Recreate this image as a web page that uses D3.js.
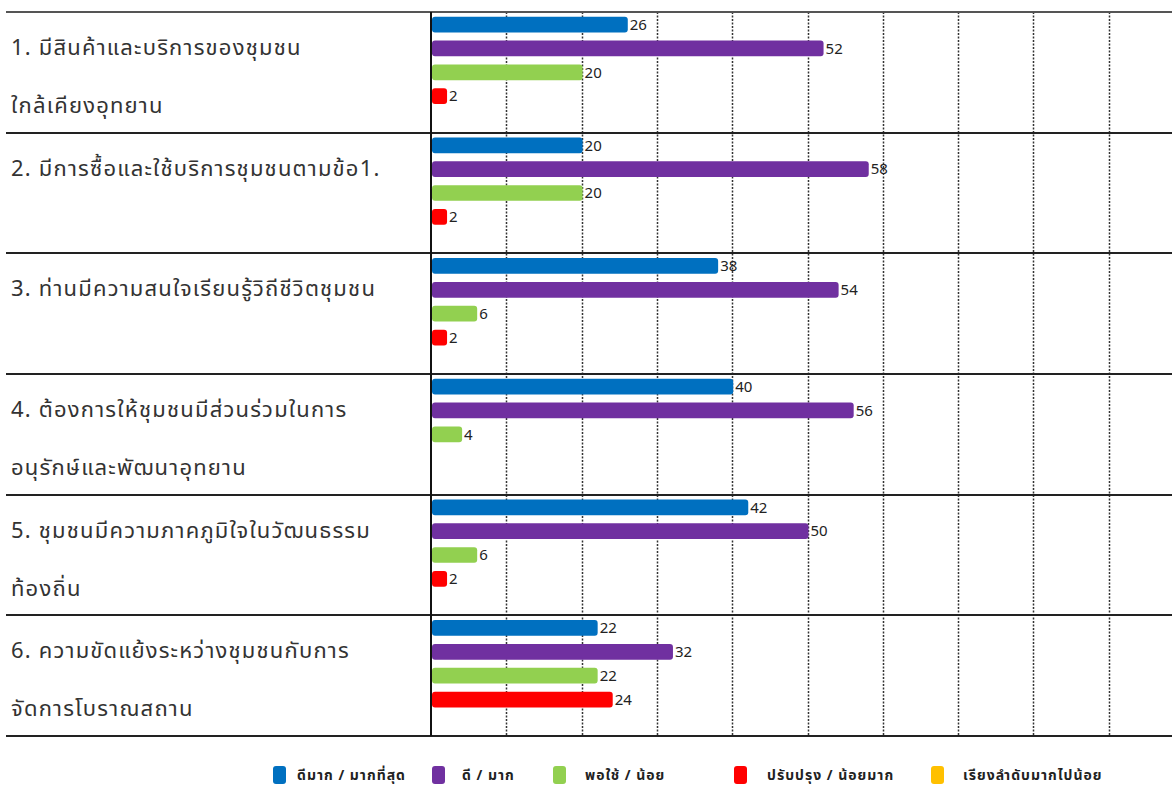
<!DOCTYPE html>
<html>
<head>
<meta charset="utf-8">
<script src="https://cdn.jsdelivr.net/npm/d3@7"></script>
<style>
  body { margin: 0; background: #fff; }
  svg text { font-family: Tahoma, "Noto Sans Thai", "Noto Sans", sans-serif; }
</style>
</head>
<body>
<div id="chart"></div>
<script>
// questions, one or two lines each
const items = [
  ["1. มีสินค้าและบริการของชุมชน", "ใกล้เคียงอุทยาน"],
  ["2. มีการซื้อและใช้บริการชุมชนตามข้อ1."],
  ["3. ท่านมีความสนใจเรียนรู้วิถีชีวิตชุมชน"],
  ["4. ต้องการให้ชุมชนมีส่วนร่วมในการ", "อนุรักษ์และพัฒนาอุทยาน"],
  ["5. ชุมชนมีความภาคภูมิใจในวัฒนธรรม", "ท้องถิ่น"],
  ["6. ความขัดแย้งระหว่างชุมชนกับการ", "จัดการโบราณสถาน"]
];
const seriesNames = ["ดีมาก / มากที่สุด", "ดี / มาก", "พอใช้ / น้อย", "ปรับปรุง / น้อยมาก", "เรียงลำดับมากไปน้อย"];
const seriesColors = ["#0070C0", "#7030A0", "#92D050", "#FF0000", "#FFC000"];
const veryGood = [26, 20, 38, 40, 42, 22];
const good = [52, 58, 54, 56, 50, 32];
const fair = [20, 20, 6, 4, 6, 22];
const poor = [2, 2, 2, 0, 2, 24];
const ranked = [null, null, null, null, null, null];
const seriesValues = [veryGood, good, fair, poor, ranked];
const gridTicks = [10, 20, 30, 40, 50, 60, 70, 80, 90];

const width = 1172, height = 787;
const svg = d3.select("#chart").append("svg")
  .attr("width", width)
  .attr("height", height);

let x = d3.scaleLinear().domain([0, 100]).range([431, 1184]);
let y = d3.scaleBand().domain(d3.range(items.length)).range([12, 736]);
let ySub = d3.scaleBand().domain(d3.range(seriesNames.length)).range([0, y.bandwidth()]).paddingInner(0.34).paddingOuter(0.2);

// dotted grid
svg.append("g")
  .selectAll("line")
  .data(gridTicks)
  .enter().append("line")
  .attr("x1", d => Math.round(x(d)) + 0.5)
  .attr("x2", d => Math.round(x(d)) + 0.5)
  .attr("y1", y.range()[0])
  .attr("y2", y.range()[1])
  .attr("stroke", "#333")
  .attr("stroke-width", 1.5)
  .attr("stroke-dasharray", "2,1.5");

// row separators
let rowLines = d3.range(items.length + 1).map(i => i < items.length ? y(i) : y.range()[1]);
svg.append("g")
  .selectAll("line")
  .data(rowLines)
  .enter().append("line")
  .attr("x1", 6)
  .attr("x2", width)
  .attr("y1", d => Math.round(d))
  .attr("y2", d => Math.round(d))
  .attr("stroke", (d, i) => i == 0 ? "#555" : "#222")
  .attr("stroke-width", 2);

// vertical axis
svg.append("line")
  .attr("x1", x(0)).attr("x2", x(0))
  .attr("y1", y.range()[0]).attr("y2", y.range()[1])
  .attr("stroke", "#111")
  .attr("stroke-width", 2);

// question labels
let rows = svg.append("g")
  .selectAll("g")
  .data(items)
  .enter().append("g")
  .attr("transform", (d, i) => "translate(11," + y(i) + ")");

rows.selectAll("text")
  .data(d => d)
  .enter().append("text")
  .attr("x", 0)
  .attr("y", (d, j) => 43 + j * 58)
  .attr("font-size", 22)
  .attr("letter-spacing", 1.2)
  .attr("fill", "#333")
  .text(d => d);

// bars
seriesValues.forEach(function (vals, s) {
  let g = svg.append("g");
  let data = vals.map((v, i) => ({ i: i, v: v })).filter(d => d.v);
  g.selectAll("rect")
    .data(data)
    .enter().append("rect")
    .attr("x", x(0) + 1)
    .attr("y", d => y(d.i) + ySub(s))
    .attr("width", d => x(d.v) - x(0))
    .attr("height", ySub.bandwidth())
    .attr("rx", 3)
    .attr("fill", seriesColors[s]);
  g.selectAll("text")
    .data(data)
    .enter().append("text")
    .attr("x", d => x(d.v) + 3)
    .attr("y", d => y(d.i) + ySub(s) + ySub.bandwidth() / 2)
    .attr("dy", "0.35em")
    .attr("font-size", 15)
    .attr("fill", "#222")
    .text(d => d.v);
});

// legend
const legendX = [273, 432, 553, 734, 931];
let legend = svg.append("g")
  .selectAll("g")
  .data(seriesNames)
  .enter().append("g")
  .attr("transform", (d, i) => "translate(" + legendX[i] + ",766)");
legend.append("rect")
  .attr("width", 13)
  .attr("height", 18)
  .attr("rx", 3)
  .attr("fill", (d, i) => seriesColors[i]);
legend.append("text")
  .attr("x", (d, i) => [24, 30, 32, 33, 32][i])
  .attr("y", 9)
  .attr("dy", "0.35em")
  .attr("font-size", 14)
  .attr("font-weight", "bold")
  .attr("letter-spacing", 1)
  .attr("fill", "#222")
  .text(d => d);
</script>
</body>
</html>
